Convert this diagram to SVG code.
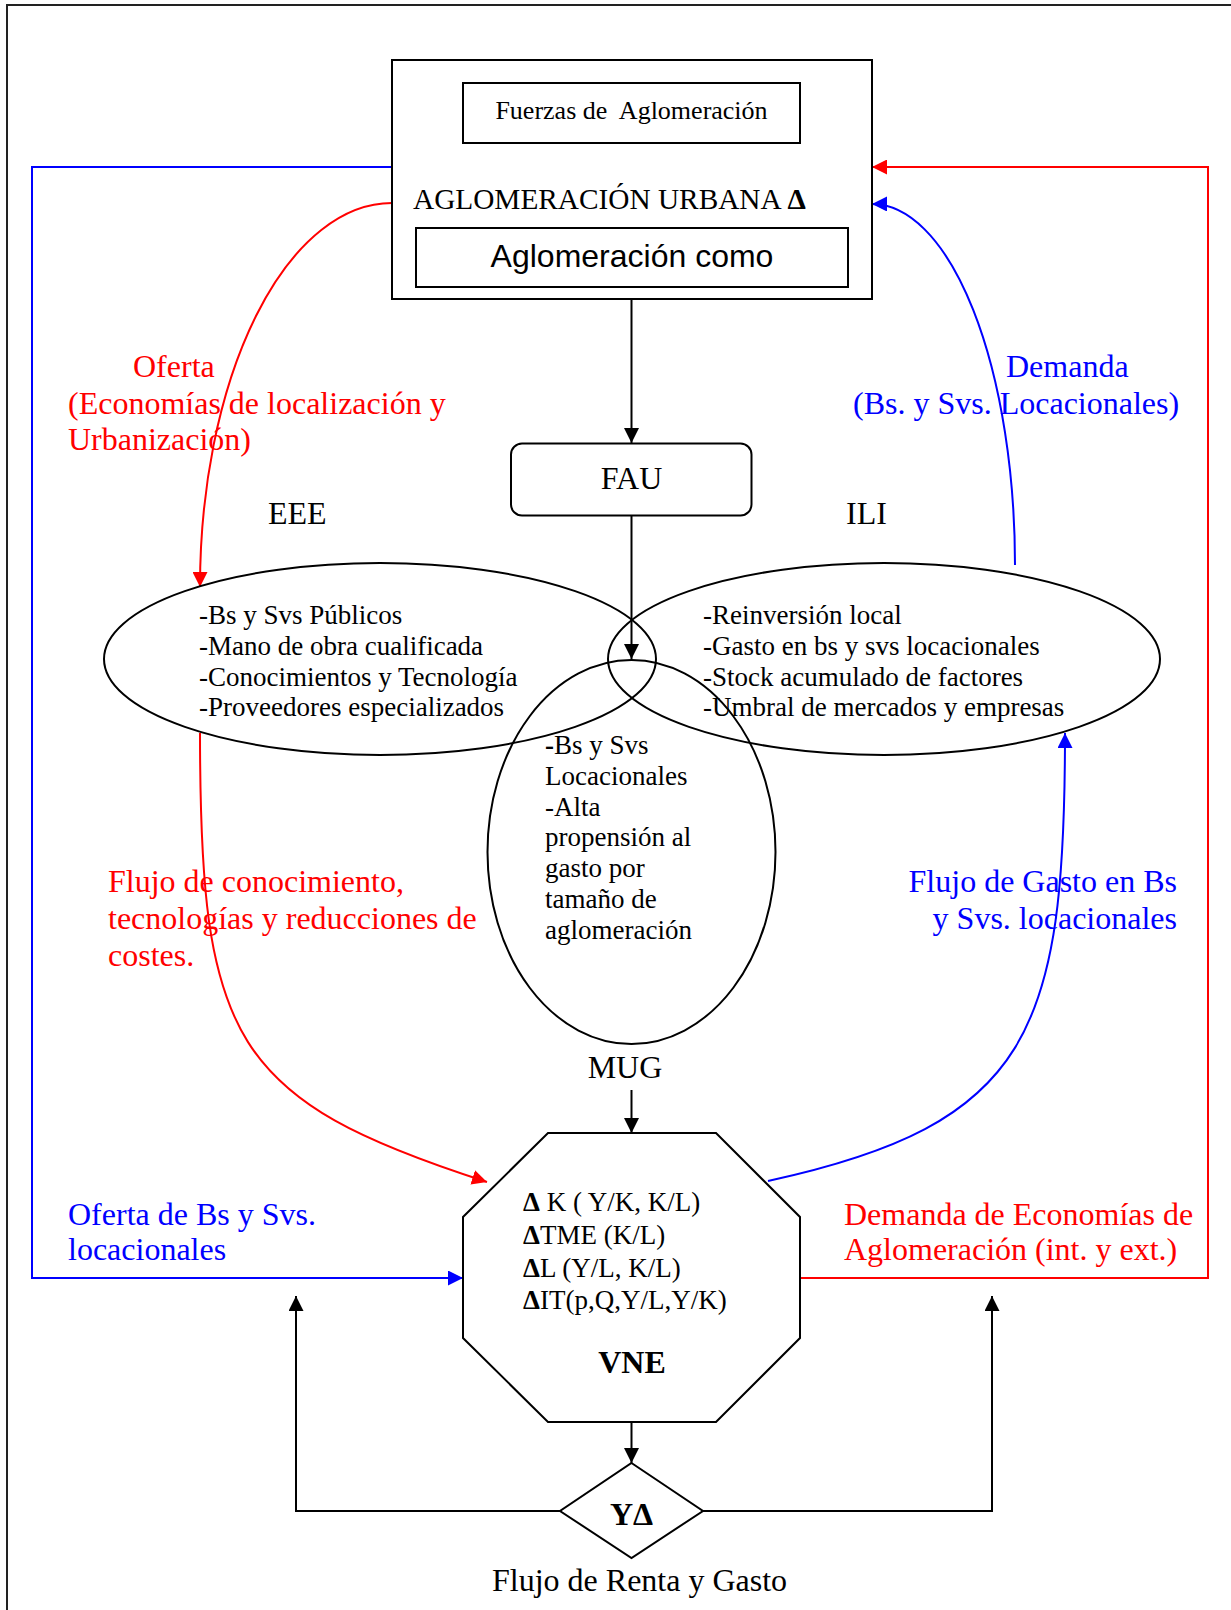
<svg xmlns="http://www.w3.org/2000/svg" width="1231" height="1610" viewBox="0 0 1231 1610">
<style>
  .t { font-family: "Liberation Serif", "Times New Roman", serif; fill: #000; }
  .s { font-size: 27px; }
  .lbl { font-size: 32px; }
  .red { fill: #FF0000; font-size: 32px; font-family: "Liberation Serif", "Times New Roman", serif; }
  .blue { fill: #0000FF; font-size: 32px; font-family: "Liberation Serif", "Times New Roman", serif; }
  .b { font-weight: bold; }
  .shapeT { fill: none; stroke: #000; stroke-width: 2; }
  .k { fill: none; stroke: #000; stroke-width: 2; }
  .r { fill: none; stroke: #FF0000; stroke-width: 2; }
  .bl { fill: none; stroke: #0000FF; stroke-width: 2; }
</style>
<defs>
  <marker id="ak" markerUnits="userSpaceOnUse" markerWidth="15" markerHeight="15" refX="15" refY="7.5" orient="auto"><path d="M0,0 L15,7.5 L0,15 z" fill="#000"/></marker>
  <marker id="ar" markerUnits="userSpaceOnUse" markerWidth="15" markerHeight="15" refX="15" refY="7.5" orient="auto"><path d="M0,0 L15,7.5 L0,15 z" fill="#FF0000"/></marker>
  <marker id="ab" markerUnits="userSpaceOnUse" markerWidth="15" markerHeight="15" refX="15" refY="7.5" orient="auto"><path d="M0,0 L15,7.5 L0,15 z" fill="#0000FF"/></marker>
</defs>
<rect x="0" y="0" width="1231" height="1610" fill="#fff"/>
<path d="M7,1610 V5 H1231" fill="none" stroke="#222" stroke-width="2"/>

<g id="connectors">
  <path class="k" d="M631.5,299 V443" marker-end="url(#ak)"/>
  <path class="k" d="M631.5,515 V659" marker-end="url(#ak)"/>
  <path class="k" d="M631.5,1090 V1133" marker-end="url(#ak)"/>
  <path class="k" d="M631.5,1422 V1463" marker-end="url(#ak)"/>
  <path class="k" d="M560,1511 H296 V1296" marker-end="url(#ak)"/>
  <path class="k" d="M703,1511 H992 V1296" marker-end="url(#ak)"/>
  <path class="bl" d="M392,167 H32 V1278 H463" marker-end="url(#ab)"/>
  <path class="r" d="M800,1278 H1208 V167 H872" marker-end="url(#ar)"/>
  <path class="r" d="M392,203 A192,384 0 0 0 200,587" marker-end="url(#ar)"/>
  <path class="bl" d="M1015,565 A143,361 0 0 0 872,204" marker-end="url(#ab)"/>
  <path class="r" d="M200,733 C200,1040 232,1100 487,1182" marker-end="url(#ar)"/>
  <path class="bl" d="M768,1181 C1030,1124 1065,1033 1065,733" marker-end="url(#ab)"/>
</g>

<g id="aglomeracion-urbana">
  <rect class="shapeT" x="392" y="60" width="480" height="239"/>
  <text class="t" x="413" y="209" font-size="29.3">AGLOMERACIÓN URBANA <tspan class="b">Δ</tspan></text>
</g>
<g id="fuerzas">
  <rect class="shapeT" x="463" y="83" width="337" height="60"/>
  <text class="t" x="631.5" y="119" font-size="26" text-anchor="middle">Fuerzas de&#160; Aglomeración</text>
</g>
<g id="aglomeracion-como">
  <rect class="shapeT" x="416" y="228" width="432" height="59"/>
  <text x="632" y="267" font-family="Liberation Sans, Arial, sans-serif" font-size="32" text-anchor="middle">Aglomeración como</text>
</g>

<g id="fau">
  <rect class="shapeT" x="511" y="443.5" width="240.5" height="72" rx="11"/>
  <text class="t lbl" x="631.5" y="489" text-anchor="middle">FAU</text>
</g>

<g id="eee-label"><text class="t lbl" x="268" y="524">EEE</text></g>
<g id="ili-label"><text class="t lbl" x="846" y="524">ILI</text></g>

<g id="ellipse-eee">
  <ellipse class="shapeT" cx="380" cy="659" rx="276" ry="96"/>
  <text class="t s" x="199" y="624">-Bs y Svs Públicos</text>
  <text class="t s" x="199" y="655">-Mano de obra cualificada</text>
  <text class="t s" x="199" y="686">-Conocimientos y Tecnología</text>
  <text class="t s" x="199" y="716">-Proveedores especializados</text>
</g>
<g id="ellipse-ili">
  <ellipse class="shapeT" cx="884" cy="659" rx="276" ry="96"/>
  <text class="t s" x="703" y="624">-Reinversión local</text>
  <text class="t s" x="703" y="655">-Gasto en bs y svs locacionales</text>
  <text class="t s" x="703" y="686">-Stock acumulado de factores</text>
  <text class="t s" x="703" y="716">-Umbral de mercados y empresas</text>
</g>
<g id="ellipse-mug">
  <ellipse class="shapeT" cx="631.5" cy="852" rx="144" ry="192"/>
  <text class="t s" x="545" y="754"><tspan class="b">-</tspan>Bs y Svs</text>
  <text class="t s" x="545" y="785">Locacionales</text>
  <text class="t s" x="545" y="816">-Alta</text>
  <text class="t s" x="545" y="846">propensión al</text>
  <text class="t s" x="545" y="877">gasto por</text>
  <text class="t s" x="545" y="908">tamaño de</text>
  <text class="t s" x="545" y="939">aglomeración</text>
</g>
<g id="mug-label"><text class="t lbl" x="625" y="1078" text-anchor="middle">MUG</text></g>

<g id="vne">
  <polygon class="shapeT" points="548,1133 716,1133 800,1217 800,1338 716,1422 548,1422 463,1338 463,1217"/>
  <text class="t s" x="523" y="1211"><tspan class="b">Δ</tspan> K ( Y/K, K/L)</text>
  <text class="t s" x="523" y="1244"><tspan class="b">Δ</tspan>TME (K/L)</text>
  <text class="t s" x="523" y="1277"><tspan class="b">Δ</tspan>L (Y/L, K/L)</text>
  <text class="t s" x="523" y="1309"><tspan class="b">Δ</tspan>IT(p,Q,Y/L,Y/K)</text>
  <text class="t b" x="632" y="1373" font-size="32" text-anchor="middle">VNE</text>
</g>

<g id="y-delta">
  <polygon class="shapeT" points="631.5,1463 703,1511 631.5,1558 560,1511"/>
  <text class="t b" x="631.5" y="1525" font-size="32" text-anchor="middle">YΔ</text>
</g>
<g id="flujo-renta"><text class="t" x="492" y="1591" font-size="32">Flujo de Renta y Gasto</text></g>

<g id="labels">
  <text class="red" x="133" y="377">Oferta</text>
  <text class="red" x="68" y="414">(Economías de localización y</text>
  <text class="red" x="68" y="450">Urbanización)</text>
  <text class="blue" x="1006" y="377">Demanda</text>
  <text class="blue" x="853" y="414">(Bs. y Svs. Locacionales)</text>
  <text class="red" x="108" y="892">Flujo de conocimiento,</text>
  <text class="red" x="108" y="929">tecnologías y reducciones de</text>
  <text class="red" x="108" y="966">costes.</text>
  <text class="blue" x="1177" y="892" text-anchor="end">Flujo de Gasto en Bs</text>
  <text class="blue" x="1177" y="929" text-anchor="end">y Svs. locacionales</text>
  <text class="blue" x="68" y="1225">Oferta de Bs y Svs.</text>
  <text class="blue" x="68" y="1260">locacionales</text>
  <text class="red" x="844" y="1225">Demanda de Economías de</text>
  <text class="red" x="844" y="1260">Aglomeración (int. y ext.)</text>
</g>
</svg>
